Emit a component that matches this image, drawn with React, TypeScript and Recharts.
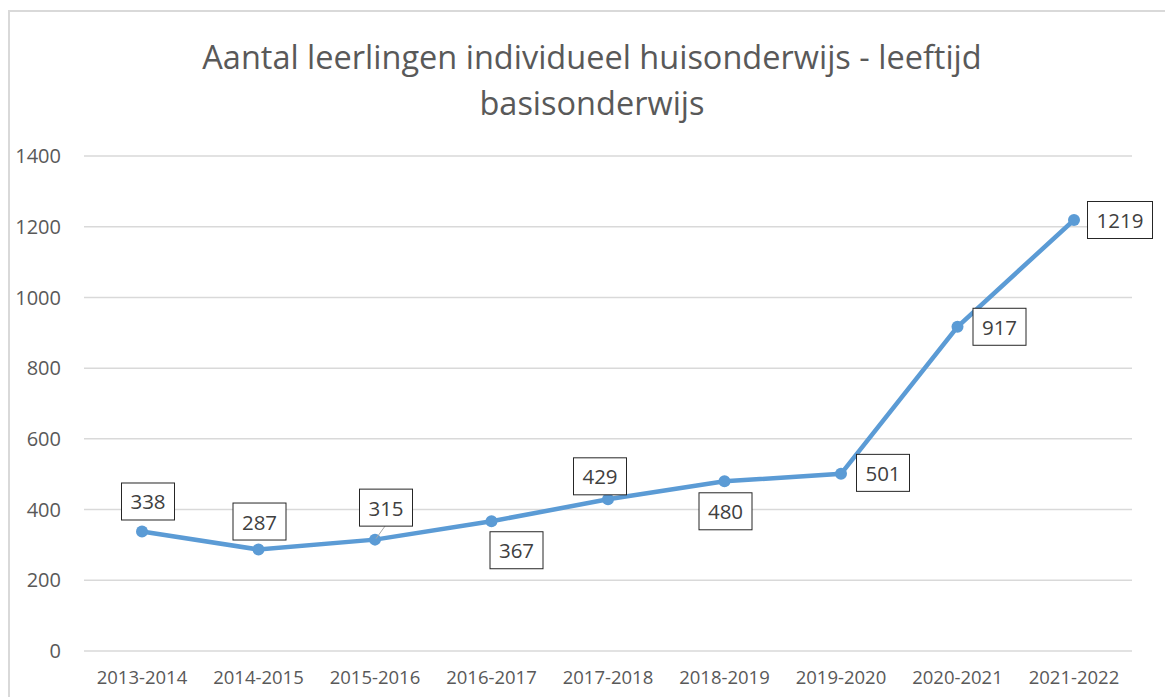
import { LineChart, Line, XAxis, YAxis, CartesianGrid } from "recharts";

const schoolYears = [
  "2013-2014",
  "2014-2015",
  "2015-2016",
  "2016-2017",
  "2017-2018",
  "2018-2019",
  "2019-2020",
  "2020-2021",
  "2021-2022",
];
const pupils = [338, 287, 315, 367, 429, 480, 501, 917, 1219];
const yTicks = [0, 200, 400, 600, 800, 1000, 1200, 1400];

// where each data label sits relative to its point (dx, dy of box centre)
const labelOffsets: [number, number][] = [
  [6, -30],
  [1, -28],
  [11, -32],
  [25, 29],
  [-8, -23],
  [1, 30],
  [42, -1],
  [42, 0],
  [46, 0],
];
const leaderLines = [false, false, true, false, false, false, false, false, false];

const data = schoolYears.map((year, i) => ({ year, pupils: pupils[i] }));

const FONT = "'Open Sans', sans-serif";

// boxed value label like the Excel data callouts
const BoxLabel = (props: any) => {
  const { x, y, value, index } = props;
  const [dx, dy] = labelOffsets[index] ?? [0, -30];
  const text = String(value);
  const w = text.length === 4 ? 65 : 53;
  const h = 37;
  const cx = x + dx;
  const cy = y + dy;
  return (
    <g>
      {leaderLines[index] && (
        <line x1={x + 1} y1={y - 1} x2={cx - 1} y2={cy + h / 2} stroke="#a6a6a6" strokeWidth={1} />
      )}
      <rect x={cx - w / 2} y={cy - h / 2} width={w} height={h} fill="#fff" stroke="#262626" strokeWidth={1} />
      <text
        x={cx}
        y={cy}
        textAnchor="middle"
        dominantBaseline="central"
        fontFamily={FONT}
        fontSize={20.5}
        fill="#404040"
      >
        {text}
      </text>
    </g>
  );
};

export default function App() {
  return (
    <div style={{ position: "absolute", left: 0, top: 0, width: 1165, height: 697, background: "#fff", overflow: "hidden" }}>
      <div
        style={{
          position: "absolute",
          left: 8,
          top: 10,
          width: 1170,
          height: 700,
          border: "2px solid #d9d9d9",
          boxSizing: "border-box",
        }}
      />
      <div
        style={{
          position: "absolute",
          left: 0,
          top: 34,
          width: 1184,
          textAlign: "center",
          fontFamily: FONT,
          fontSize: 32.5,
          lineHeight: "46px",
          color: "#595959",
        }}
      >
        Aantal leerlingen individueel huisonderwijs - leeftijd
        <br />
        basisonderwijs
      </div>
      <div style={{ position: "absolute", left: 0, top: 0 }}>
        <LineChart width={1165} height={697} data={data} margin={{ top: 156, right: 33, bottom: 0, left: 0 }}>
          <CartesianGrid vertical={false} stroke="#d9d9d9" strokeWidth={1.5} />
          <XAxis
            dataKey="year"
            axisLine={false}
            tickLine={false}
            height={46}
            tickMargin={14}
            padding={{ left: 58, right: 58 }}
            tick={{ fontFamily: FONT, fontSize: 18.5, fill: "#595959" }}
            interval={0}
          />
          <YAxis
            domain={[0, 1400]}
            ticks={yTicks}
            axisLine={false}
            tickLine={false}
            width={84}
            tickMargin={17}
            tick={{ fontFamily: FONT, fontSize: 20, fill: "#595959" }}
          />
          <Line
            dataKey="pupils"
            stroke="#5b9bd5"
            strokeWidth={4.5}
            dot={{ r: 6, fill: "#5b9bd5", stroke: "none" }}
            label={<BoxLabel />}
            isAnimationActive={false}
          />
        </LineChart>
      </div>
    </div>
  );
}
